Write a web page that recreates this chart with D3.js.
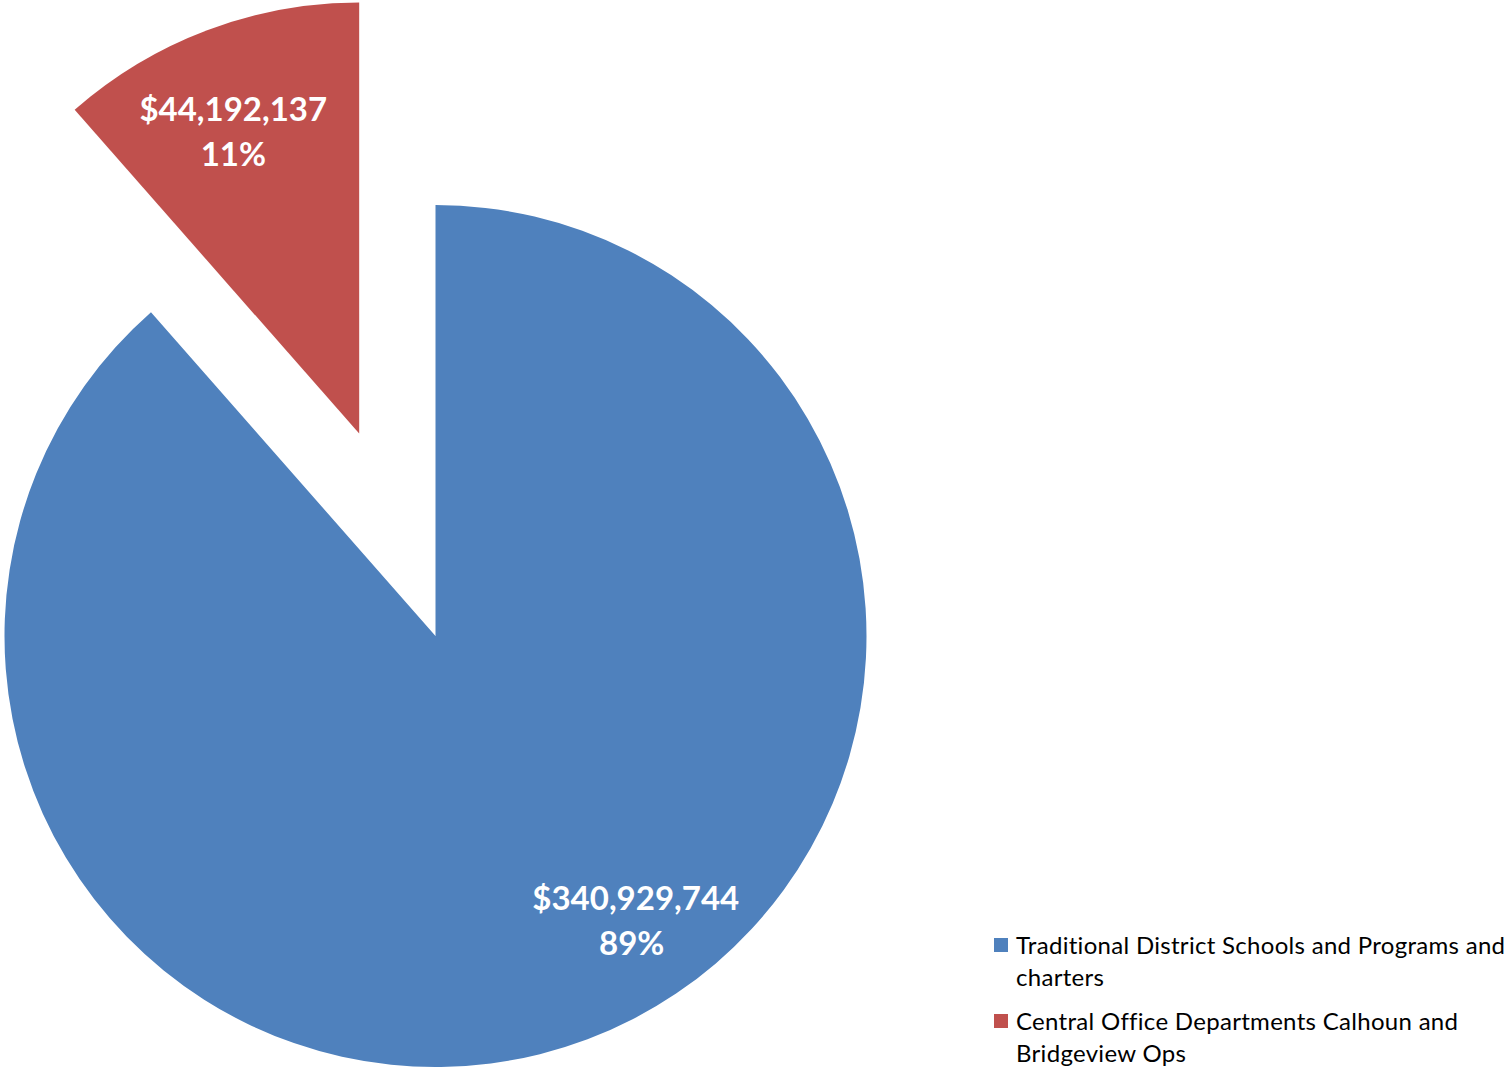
<!DOCTYPE html>
<html>
<head>
<meta charset="utf-8">
<script src="https://cdn.jsdelivr.net/npm/d3@7"></script>
<style>
  html, body { margin: 0; padding: 0; background: #ffffff; }
  svg { display: block; }
  text { font-variant-ligatures: none; }
</style>
</head>
<body>
<svg id="chart" width="1507" height="1067"></svg>
<script>
// Budget split between the two spending groups
const categories = [
  "Traditional District Schools and Programs and charters",
  "Central Office Departments Calhoun and Bridgeview Ops"
];
const legendLines = [
  ["Traditional District Schools and Programs and", "charters"],
  ["Central Office Departments Calhoun and", "Bridgeview Ops"]
];
const amounts = [340929744, 44192137];
const percentLabels = ["89%", "11%"];
const colors = ["#4F81BD", "#C0504D"];
// which slice is pulled out of the pie, and by how much (fraction of radius)
const explode = [0, 0.502];
// label placement: angle (deg, clockwise from 12 o'clock) and distance as fraction of radius
const labelAngle = [144.8, -22.6];
const labelDist = [0.806, 0.76];

const svg = d3.select("#chart");
const cx = 435.5, cy = 636, R = 431;

const pie = d3.pie().sort(null).value(d => d.value).startAngle(0).endAngle(2 * Math.PI);
const data = categories.map((c, i) => ({ name: c, value: amounts[i], i }));
const arcs = pie(data);
const arc = d3.arc().innerRadius(0).outerRadius(R);

const g = svg.append("g").attr("transform", `translate(${cx},${cy})`);

const slice = g.selectAll("g.slice").data(arcs).join("g")
  .attr("class", "slice")
  .attr("transform", d => {
    const mid = (d.startAngle + d.endAngle) / 2;
    const off = explode[d.data.i] * R;
    return `translate(${Math.sin(mid) * off},${-Math.cos(mid) * off})`;
  });

slice.append("path")
  .attr("d", arc)
  .attr("fill", d => colors[d.data.i]);

const fmt = d3.format("$,");
const labels = slice.append("text")
  .attr("text-anchor", "middle")
  .attr("fill", "#ffffff")
  .attr("font-family", "Lato, 'Open Sans', sans-serif")
  .attr("font-weight", "bold")
  .attr("font-size", 33)
  .attr("transform", d => {
    const a = labelAngle[d.data.i] * Math.PI / 180;
    const r = labelDist[d.data.i] * R;
    return `translate(${Math.sin(a) * r},${-Math.cos(a) * r})`;
  });
labels.append("tspan").attr("x", 0).attr("y", -10).text(d => fmt(d.data.value));
labels.append("tspan").attr("x", d => d.data.i === 0 ? -4 : 0).attr("y", 35).text(d => percentLabels[d.data.i]);

// Legend
const legend = svg.append("g").attr("transform", "translate(994,938)");
const item = legend.selectAll("g").data(categories).join("g")
  .attr("transform", (d, i) => `translate(0,${i * 76})`);
item.append("rect")
  .attr("width", 14).attr("height", 14)
  .attr("fill", (d, i) => colors[i]);
const lt = item.append("text")
  .attr("font-family", "Lato, 'Open Sans', sans-serif")
  .attr("font-size", 24)
  .attr("letter-spacing", 0.3)
  .attr("fill", "#000000");
lt.selectAll("tspan").data((d, i) => legendLines[i]).join("tspan")
  .attr("x", 22)
  .attr("y", (d, j) => 16 + j * 32)
  .text(d => d);
</script>
</body>
</html>
